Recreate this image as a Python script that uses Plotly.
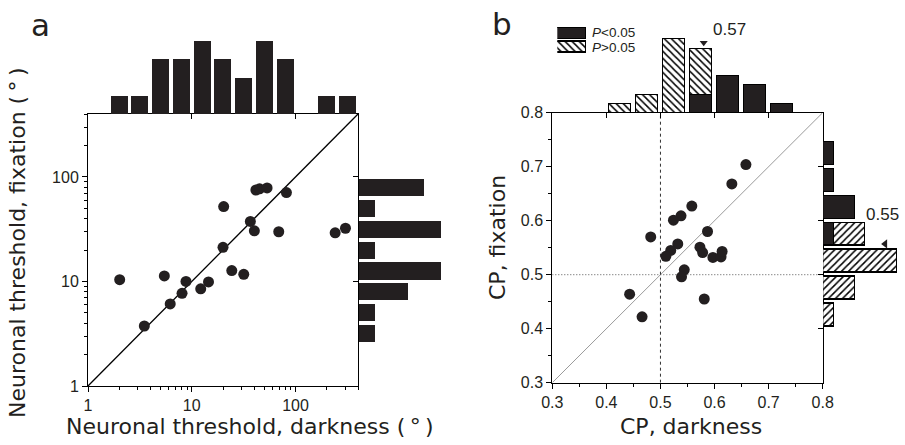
import plotly.graph_objects as go
import numpy as np

W, H = 905, 445
def px(x): return x / W
def py(y): return 1 - y / H

# ---------------- Panel a data ----------------
dark_a = [2.02, 3.49, 5.44, 6.2, 8.06, 8.8, 12.2, 14.5, 20.0, 20.3, 24.3, 31.7,
          36.7, 40.1, 41.5, 45.0, 53.2, 68.9, 81.7, 241, 303]
fix_a = [10.4, 3.75, 11.3, 6.1, 7.7, 10.0, 8.5, 9.9, 21.2, 52, 12.7, 11.7,
         37.5, 30.5, 75, 77, 78.4, 29.9, 70.8, 29.2, 32.3]
# log10 bin centres and counts of marginal histograms
hist_a_top_bins = [0.3, 0.5, 0.7, 0.9, 1.1, 1.3, 1.5, 1.7, 1.9, 2.1, 2.3, 2.5]
hist_a_top_counts = [1, 1, 3, 3, 4, 3, 2, 4, 3, 0, 1, 1]
hist_a_right_bins = [0.5, 0.7, 0.9, 1.1, 1.3, 1.5, 1.7, 1.9]
hist_a_right_counts = [1, 1, 3, 5, 1, 5, 1, 4]
a_ticks = [1, 10, 100]
a_minor = [2, 3, 4, 5, 6, 7, 8, 9, 20, 30, 40, 50, 60, 70, 80, 90, 200, 300, 400]
a_max = 400

# ---------------- Panel b data ----------------
dark_b = [0.658, 0.632, 0.558, 0.538, 0.524, 0.482, 0.587, 0.532, 0.573, 0.519,
          0.510, 0.578, 0.597, 0.612, 0.614, 0.544, 0.539, 0.443, 0.466, 0.581]
fix_b = [0.704, 0.668, 0.627, 0.609, 0.601, 0.570, 0.580, 0.557, 0.551, 0.545,
         0.534, 0.541, 0.532, 0.533, 0.543, 0.509, 0.496, 0.464, 0.422, 0.455]
cp_bins = [0.425, 0.475, 0.525, 0.575, 0.625, 0.675, 0.725]
top_sig = [0, 0, 0, 2, 4, 3, 1]
top_nonsig = [1, 2, 8, 5, 0, 0, 0]
right_sig = [0, 0, 0, 1, 3, 1, 1]
right_nonsig = [1, 3, 7, 3, 0, 0, 0]
b_ticks = [0.3, 0.4, 0.5, 0.6, 0.7, 0.8]
b_ticktext = ["0.3", "0.4", "0.5", "0.6", "0.7", "0.8"]
b_minor = [0.35, 0.45, 0.55, 0.65, 0.75]
mean_dark, mean_dark_label = 0.58, "0.57"
mean_fix, mean_fix_label = 0.557, "0.55"

BLACK = "#231f20"
TICKFONT = dict(family="Liberation Sans, Arial", size=16, color="#231f20")
TITLEFONT = dict(family="DejaVu Sans", size=22, color="#231f20")

fig = go.Figure()

# ---- panel a ----
fig.add_trace(go.Scatter(x=[1, a_max], y=[1, a_max], mode="lines",
                         line=dict(color="black", width=1.3), xaxis="x", yaxis="y"))
fig.add_trace(go.Scatter(x=dark_a, y=fix_a, mode="markers",
                         marker=dict(color=BLACK, size=11), xaxis="x", yaxis="y"))
fig.add_trace(go.Bar(x=hist_a_top_bins, y=hist_a_top_counts, width=0.164,
                     marker=dict(color=BLACK, line=dict(width=0)), xaxis="x2", yaxis="y2"))
fig.add_trace(go.Bar(y=hist_a_right_bins, x=hist_a_right_counts, width=0.163, orientation="h",
                     marker=dict(color=BLACK, line=dict(width=0)), xaxis="x3", yaxis="y3"))

# ---- panel b ----
fig.add_trace(go.Scatter(x=[0.3, 0.8], y=[0.3, 0.8], mode="lines",
                         line=dict(color="#9a9a9a", width=1), xaxis="x4", yaxis="y4"))
fig.add_trace(go.Scatter(x=[0.5, 0.5], y=[0.3, 0.8], mode="lines",
                         line=dict(color="#333", width=1, dash="3px,3px"), xaxis="x4", yaxis="y4"))
fig.add_trace(go.Scatter(x=[0.3, 0.8], y=[0.5, 0.5], mode="lines",
                         line=dict(color="#555", width=1, dash="1px,2px"), xaxis="x4", yaxis="y4"))
fig.add_trace(go.Scatter(x=dark_b, y=fix_b, mode="markers",
                         marker=dict(color=BLACK, size=11), xaxis="x4", yaxis="y4"))

hatch_top = dict(shape="\\", fgcolor="black", bgcolor="white", size=5, solidity=0.3)
hatch_right = dict(shape="/", fgcolor="black", bgcolor="white", size=5, solidity=0.3)
edge = dict(color="black", width=1.2)
fig.add_trace(go.Bar(x=cp_bins, y=top_sig, width=0.041,
                     marker=dict(color=BLACK, line=edge), xaxis="x5", yaxis="y5"))
fig.add_trace(go.Bar(x=cp_bins, y=top_nonsig, width=0.041,
                     marker=dict(color="white", pattern=hatch_top, line=edge), xaxis="x5", yaxis="y5"))
fig.add_trace(go.Bar(y=cp_bins, x=right_sig, width=0.042, orientation="h",
                     marker=dict(color=BLACK, line=edge), xaxis="x6", yaxis="y6"))
fig.add_trace(go.Bar(y=cp_bins, x=right_nonsig, width=0.042, orientation="h",
                     marker=dict(color="white", pattern=hatch_right, line=edge), xaxis="x6", yaxis="y6"))
# mean arrows
fig.add_trace(go.Scatter(x=[mean_dark], y=[7.6], mode="markers",
                         marker=dict(symbol="triangle-down", size=7, color=BLACK),
                         xaxis="x5", yaxis="y5"))
fig.add_trace(go.Scatter(x=[5.85], y=[mean_fix], mode="markers",
                         marker=dict(symbol="triangle-left", size=8, color=BLACK),
                         xaxis="x6", yaxis="y6"))
# legend swatches
fig.add_trace(go.Bar(y=[1.5], x=[1], width=0.82, orientation="h",
                     marker=dict(color=BLACK, line=dict(color="black", width=1)),
                     xaxis="x7", yaxis="y7"))
fig.add_trace(go.Bar(y=[0.5], x=[1], width=0.82, orientation="h",
                     marker=dict(color="white", pattern=hatch_top, line=dict(color="black", width=1.2)),
                     xaxis="x7", yaxis="y7"))
# dummy traces for mirrored inner ticks
fig.add_trace(go.Scatter(x=[], y=[], xaxis="x8", yaxis="y8"))
fig.add_trace(go.Scatter(x=[], y=[], xaxis="x9", yaxis="y9"))

la = np.log10(a_max)
A_X = [px(88), px(358)]
A_Y = [py(386), py(114)]
B_X = [px(552.3), px(822.7)]
B_Y = [py(382.7), py(112.7)]

axis_common = dict(showgrid=False, zeroline=False, showline=True, linecolor="black",
                   linewidth=1, ticks="outside", ticklen=5, tickcolor="black",
                   tickfont=TICKFONT, mirror=True, automargin=False)
hidden = dict(visible=False, showgrid=False, zeroline=False, fixedrange=True, automargin=False)
inner = dict(showgrid=False, zeroline=False, showline=False, ticks="inside", ticklen=5,
             tickcolor="black", showticklabels=False, tickmode="array", automargin=False)

fig.update_layout(
    template="none",
    width=W, height=H, margin=dict(l=0, r=0, t=0, b=0, pad=0, autoexpand=False),
    paper_bgcolor="white", plot_bgcolor="white",
    showlegend=False, barmode="stack", bargap=0,
    xaxis=dict(**axis_common, type="log", range=[0, la], domain=A_X, anchor="y",
               tickmode="array", tickvals=a_ticks, ticktext=[str(t) for t in a_ticks],
               minor=dict(ticks="outside", ticklen=3, tickcolor="black", tickvals=a_minor)),
    yaxis=dict(**axis_common, type="log", range=[0, la], domain=A_Y, anchor="x",
               tickmode="array", tickvals=a_ticks, ticktext=[str(t) for t in a_ticks],
               minor=dict(ticks="outside", ticklen=3, tickcolor="black", tickvals=a_minor)),
    xaxis2=dict(**hidden, range=[0, la], domain=A_X, anchor="y2"),
    yaxis2=dict(**hidden, range=[0, 80 / 18.2], domain=[py(114), py(34)], anchor="x2"),
    xaxis3=dict(**hidden, range=[0, 90 / 16.3], domain=[px(358.5), px(448.5)], anchor="y3"),
    yaxis3=dict(**hidden, range=[0, la], domain=A_Y, anchor="x3"),
    xaxis4=dict(**axis_common, range=[0.3, 0.8], domain=B_X, anchor="y4",
                tickmode="array", tickvals=b_ticks, ticktext=b_ticktext,
                minor=dict(ticks="outside", ticklen=3, tickcolor="black", tickvals=b_minor)),
    yaxis4=dict(**axis_common, range=[0.3, 0.8], domain=B_Y, anchor="x4",
                tickmode="array", tickvals=b_ticks, ticktext=b_ticktext,
                minor=dict(ticks="outside", ticklen=3, tickcolor="black", tickvals=b_minor)),
    xaxis5=dict(**hidden, range=[0.3, 0.8], domain=B_X, anchor="y5"),
    yaxis5=dict(**hidden, range=[0, 80 / 9.2], domain=[py(112.7), py(32.7)], anchor="x5"),
    xaxis6=dict(**hidden, range=[0, 80 / 10.57], domain=[px(823.3), px(903.3)], anchor="y6"),
    yaxis6=dict(**hidden, range=[0.3, 0.8], domain=B_Y, anchor="x6"),
    xaxis7=dict(**hidden, range=[0, 1], domain=[px(557.3), px(586.7)], anchor="y7"),
    yaxis7=dict(**hidden, range=[0, 2], domain=[py(53.6), py(26.6)], anchor="x7"),
    xaxis8=dict(**inner, type="log", range=[0, la], overlaying="x", side="top", anchor="y8",
                tickvals=a_ticks),
    yaxis8=dict(**inner, type="log", range=[0, la], overlaying="y", side="right", anchor="x8",
                tickvals=a_ticks),
    xaxis9=dict(**inner, range=[0.3, 0.8], overlaying="x4", side="top", anchor="y9",
                tickvals=b_ticks),
    yaxis9=dict(**inner, range=[0.3, 0.8], overlaying="y4", side="right", anchor="x9",
                tickvals=b_ticks),
)

def ann(text, x, y, font, xanchor="center", yanchor="middle", angle=0):
    fig.add_annotation(text=text, x=px(x), y=py(y), xref="paper", yref="paper",
                       showarrow=False, font=font, xanchor=xanchor, yanchor=yanchor,
                       textangle=angle)

ann("Neuronal threshold, darkness (\u2009°\u2009)", 250, 426, TITLEFONT)
ann("Neuronal threshold, fixation (\u2009°\u2009)", 17.5, 242.5, TITLEFONT, angle=-90)
ann("CP, darkness", 691, 426, TITLEFONT)
ann("CP, fixation", 497, 238, TITLEFONT, angle=-90)
ann("a", 40, 25, dict(family="DejaVu Sans", size=31, color="#231f20"))
ann("b", 502, 24, dict(family="DejaVu Sans", size=31, color="#231f20"))
lg = dict(family="Liberation Sans, Arial", size=13.5, color="#231f20")
ann("<i>P</i>&lt;0.05", 590, 32.2, lg, xanchor="left")
ann("<i>P</i>&gt;0.05", 590, 48, lg, xanchor="left")
num = dict(family="Liberation Sans, Arial", size=17, color="#231f20")
ann(mean_dark_label, 729.5, 29.5, num)
ann(mean_fix_label, 882, 214, num)

fig.write_html("out.html", config={"displayModeBar": False},
               post_script="document.body.style.margin='0';document.body.style.padding='0';")
